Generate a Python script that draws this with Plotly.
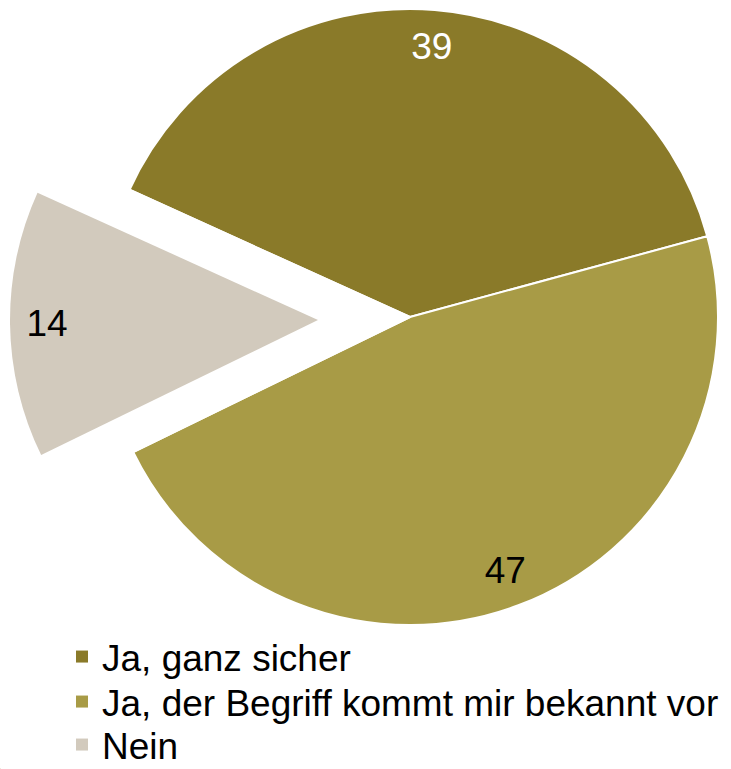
import plotly.graph_objects as go

labels = ["Ja, ganz sicher", "Ja, der Begriff kommt mir bekannt vor", "Nein"]
values = [39, 47, 14]
colors = ["#8A7A29", "#A89B46", "#D2CABD"]
label_colors = ["white", "black", "black"]
pulled = [False, False, True]

CLEAR = "rgba(0,0,0,0)"
FONT = "Liberation Sans, Arial, sans-serif"
ROT = -65.6
W, H = 731, 769

main_dom = dict(x=[102 / W, 718 / W], y=[1 - 625 / H, 1 - 9 / H])
pull_dom = dict(x=[10 / W, 626 / W], y=[1 - 628 / H, 1 - 12 / H])

common = dict(labels=labels, values=values, sort=False, direction="clockwise",
              rotation=ROT, hoverinfo="skip")

fig = go.Figure()

# main pie (slices not pulled)
fig.add_trace(go.Pie(**common,
                     marker=dict(colors=[c if not p else CLEAR for c, p in zip(colors, pulled)],
                                 line=dict(color="white", width=2)),
                     textinfo="none", domain=main_dom, showlegend=False))

# pulled slice
fig.add_trace(go.Pie(**common,
                     marker=dict(colors=[c if p else CLEAR for c, p in zip(colors, pulled)],
                                 line=dict(width=0)),
                     textinfo="none", domain=pull_dom, showlegend=False))

# label rings
for dom, sel in ((main_dom, [not p for p in pulled]), (pull_dom, pulled)):
    fig.add_trace(go.Pie(**common, hole=0.76,
                         marker=dict(colors=[CLEAR] * len(values), line=dict(width=0)),
                         text=[str(v) if s else "" for v, s in zip(values, sel)],
                         textinfo="text", textposition="inside",
                         insidetextorientation="horizontal",
                         textfont=dict(family=FONT, size=37, color=label_colors),
                         domain=dom, showlegend=False))

# legend entries: one tiny proxy pie per category, each in its own legend row
legend_layout = {}
row_centers = [657, 702, 745]
for i, (lab, val, col) in enumerate(zip(labels, values, colors)):
    key = "legend" if i == 0 else f"legend{i + 1}"
    fig.add_trace(go.Pie(labels=[lab], values=[val], sort=False,
                         marker=dict(colors=[col], line=dict(width=0)),
                         textinfo="none", hoverinfo="skip",
                         domain=dict(x=[0, 0.0005], y=[0, 0.0005]),
                         showlegend=True, legend=key))
    legend_layout[key] = dict(x=62 / W, y=1 - row_centers[i] / H,
                              xanchor="left", yanchor="middle",
                              font=dict(family=FONT, size=37, color="black"),
                              bgcolor=CLEAR, borderwidth=0)

fig.update_layout(
    width=W, height=H,
    margin=dict(l=0, r=0, t=0, b=0, autoexpand=False),
    paper_bgcolor="white", plot_bgcolor="white",
    showlegend=True,
    **legend_layout,
)

fig.write_html("out.html", config={"displayModeBar": False},
               post_script="document.body.style.margin='0';")
